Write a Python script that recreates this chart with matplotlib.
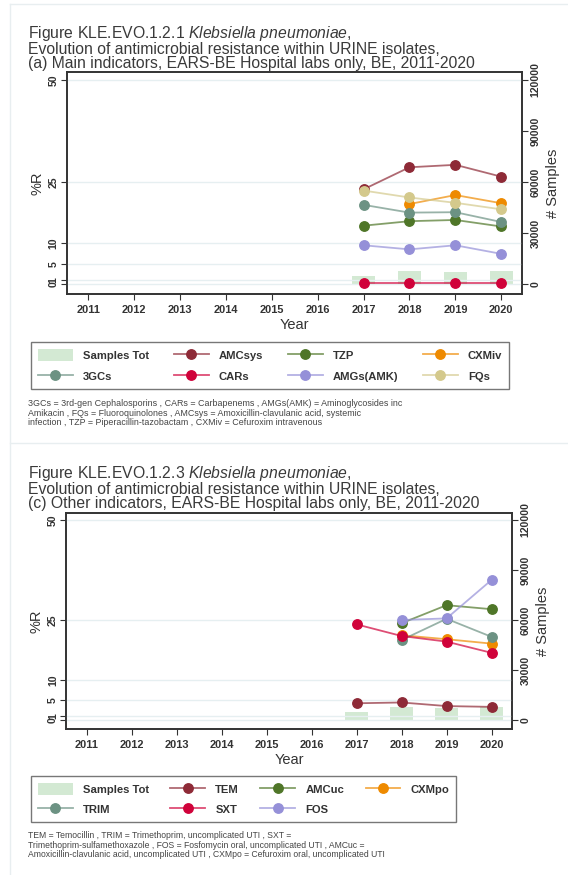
"""
Klebsiella pneumoniae - evolusi resistensi antimikroba pada isolat URINE
Dua panel: (a) indikator utama dan (c) indikator lain, EARS-BE 2011-2020.
"""

import numpy as np
import matplotlib
matplotlib.use("Agg")
import matplotlib.pyplot as plt
from matplotlib.patches import Patch

plt.rcParams['font.family'] = ['Liberation Sans', 'DejaVu Sans']
plt.rcParams['mathtext.fontset'] = 'custom'
plt.rcParams['mathtext.rm'] = 'Liberation Sans'
plt.rcParams['mathtext.it'] = 'Liberation Sans:italic'

nan = np.nan

# Sumbu X
years_axis = list(range(2011, 2021))
years = [2017, 2018, 2019, 2020]

# Panel (a) - indikator utama
samples_main = [5000, 7800, 7200, 7800]
amcsys = [23.2, 28.6, 29.2, 26.3]
tzp = [14.3, 15.4, 15.7, 14.1]
cxmiv = [nan, 19.6, 21.8, 19.8]
gcs3 = [19.4, 17.5, 17.6, 15.2]
cars = [0.2, 0.2, 0.2, 0.2]
amgs = [9.5, 8.5, 9.5, 7.4]
fqs = [22.9, 21.2, 19.9, 18.3]

# Panel (c) - indikator lain
samples_other = [5000, 7800, 7400, 7600]
tem = [4.2, 4.4, 3.5, 3.3]
amcuc = [nan, 24.2, 28.7, 27.7]
cxmpo = [nan, 21.2, 20.2, 19.1]
trim = [nan, 20.0, 25.3, 20.8]
sxt = [23.9, 21.0, 19.6, 16.8]
fos = [nan, 25.0, 25.4, 35.0]

# Warna
C_MAROON = "#8e2a37"
C_GREEN = "#4f7628"
C_ORANGE = "#ee8a00"
C_TEAL = "#6c9283"
C_RED = "#d0023a"
C_LAV = "#9590d8"
C_KHAKI = "#d4c98c"
C_BAR = "#d3e9d3"
C_GRID = "#e6eff1"
C_TEXT = "#333333"

y_ticks = [0, 1, 5, 10, 25, 50]
r_ticks = [0, 30000, 60000, 90000, 120000]

main_series = [
    ("AMCsys", amcsys, C_MAROON), ("TZP", tzp, C_GREEN), ("CXMiv", cxmiv, C_ORANGE),
    ("3GCs", gcs3, C_TEAL), ("CARs", cars, C_RED), ("AMGs(AMK)", amgs, C_LAV),
    ("FQs", fqs, C_KHAKI),
]
other_series = [
    ("TEM", tem, C_MAROON), ("AMCuc", amcuc, C_GREEN), ("CXMpo", cxmpo, C_ORANGE),
    ("TRIM", trim, C_TEAL), ("SXT", sxt, C_RED), ("FOS", fos, C_LAV),
]

W, H = 568, 875
fig = plt.figure(figsize=(W / 100, H / 100), dpi=100)

# garis tipis kartu halaman
fig.add_artist(plt.Line2D([10 / W, 10 / W], [0, 1 - 4 / H], color="#e8eef0", lw=1))
fig.add_artist(plt.Line2D([10 / W, 1], [1 - 4 / H, 1 - 4 / H], color="#e8eef0", lw=1))
fig.add_artist(plt.Line2D([10 / W, 1], [1 - 443 / H, 1 - 443 / H], color="#e8eef0", lw=1))


def draw_panel(rect, samples, series, ylim, title, title_top):
    ax = fig.add_axes(rect)
    ax2 = ax.twinx()

    # bar jumlah sampel (sumbu kanan)
    ax2.bar(years, samples, width=0.5, color=C_BAR, zorder=1)
    ax2.set_ylim(ylim[0] * 2400, ylim[1] * 2400)
    ax2.set_yticks(r_ticks)
    ax2.set_yticklabels([str(t) for t in r_ticks], rotation=90, va="center",
                        fontsize=7.6, color=C_TEXT, fontweight="bold")
    ax2.set_ylabel("# Samples", fontsize=10.5, color=C_TEXT, labelpad=4)

    ax.set_zorder(ax2.get_zorder() + 1)
    ax.patch.set_visible(False)

    handles = []
    for name, vals, col in series:
        r, g, b = matplotlib.colors.to_rgb(col)
        h, = ax.plot(years, vals, color=(r, g, b, 0.7), lw=1.3, marker="o",
                     markersize=6.8, markerfacecolor=col, markeredgecolor=col,
                     label=name, zorder=3)
        handles.append(h)

    for t in y_ticks:
        ax.axhline(t, color=C_GRID, lw=1, zorder=0)

    ax.set_xlim(2010.54, 2020.46)
    ax.set_ylim(*ylim)
    ax.set_xticks(years_axis)
    ax.set_xticklabels([str(y) for y in years_axis], fontsize=7.9, color=C_TEXT,
                       fontweight="bold")
    ax.set_yticks(y_ticks)
    ax.set_yticklabels([str(t) for t in y_ticks], rotation=90, va="center",
                       fontsize=7.6, color=C_TEXT, fontweight="bold")
    ax.set_xlabel("Year", fontsize=10.5, color=C_TEXT, labelpad=2)
    ax.set_ylabel("%R", fontsize=10.5, color=C_TEXT, labelpad=3)

    for a in (ax, ax2):
        a.tick_params(direction="out", length=4, width=0.8, color=C_TEXT, pad=2)
        for s in a.spines.values():
            s.set_color(C_TEXT)
            s.set_linewidth(1.2)
    ax.tick_params(axis="x", pad=4)

    fig.text(28 / W, 1 - title_top / H, title, fontsize=11.3, color="#3a3a3a",
             va="top", ha="left", linespacing=0.93)

    bar_handle = Patch(facecolor=C_BAR, edgecolor="none", label="Samples Tot")
    return [bar_handle] + handles


def add_legend(handles, order, anchor, colspace):
    hs = [handles[i] for i in order]
    leg = fig.legend(handles=hs, labels=[h.get_label() for h in hs], ncol=4,
                     loc="upper left", bbox_to_anchor=anchor,
                     prop={"size": 8.1, "weight": "bold"},
                     frameon=True, fancybox=False, borderaxespad=0,
                     handlelength=3.1, handleheight=1.3, handletextpad=0.9,
                     columnspacing=colspace, labelspacing=0.75, borderpad=0.6)
    leg.get_frame().set_edgecolor("#555555")
    leg.get_frame().set_linewidth(1.0)
    for t in leg.get_texts():
        t.set_color(C_TEXT)
    return leg


# Panel (a)
h_main = draw_panel([67 / W, 1 - 294.3 / H, 455.4 / W, 222.6 / H], samples_main,
                    main_series, (-2.5, 52.0),
                    "Figure KLE.EVO.1.2.1 $\\mathit{Klebsiella\\ pneumoniae}$,\n"
                    "Evolution of antimicrobial resistance within URINE isolates,\n"
                    "(a) Main indicators, EARS-BE Hospital labs only, BE, 2011-2020",
                    24)
# urutan kolom: Samples/3GCs, AMCsys/CARs, TZP/AMGs, CXMiv/FQs
add_legend(h_main, [0, 4, 1, 5, 2, 6, 3, 7], (31 / W, 1 - 342.3 / H), 2.2)

fig.text(28 / W, 1 - 399 / H,
         "3GCs = 3rd-gen Cephalosporins , CARs = Carbapenems , AMGs(AMK) = Aminoglycosides inc\n"
         "Amikacin , FQs = Fluoroquinolones , AMCsys = Amoxicillin-clavulanic acid, systemic\n"
         "infection , TZP = Piperacillin-tazobactam , CXMiv = Cefuroxim intravenous",
         fontsize=6.4, color="#444444", va="top", ha="left", linespacing=1.1)

# Panel (c)
h_other = draw_panel([66.3 / W, 1 - 729.3 / H, 445.9 / W, 216.6 / H], samples_other,
                     other_series, (-2.3, 51.8),
                     "Figure KLE.EVO.1.2.3 $\\mathit{Klebsiella\\ pneumoniae}$,\n"
                     "Evolution of antimicrobial resistance within URINE isolates,\n"
                     "(c) Other indicators, EARS-BE Hospital labs only, BE, 2011-2020",
                     464)
# urutan kolom: Samples/TRIM, TEM/SXT, AMCuc/FOS, CXMpo
add_legend(h_other, [0, 4, 1, 5, 2, 6, 3], (31 / W, 1 - 776 / H), 1.9)

fig.text(28 / W, 1 - 831 / H,
         "TEM = Temocillin , TRIM = Trimethoprim, uncomplicated UTI , SXT =\n"
         "Trimethoprim-sulfamethoxazole , FOS = Fosfomycin oral, uncomplicated UTI , AMCuc =\n"
         "Amoxicillin-clavulanic acid, uncomplicated UTI , CXMpo = Cefuroxim oral, uncomplicated UTI",
         fontsize=6.2, color="#444444", va="top", ha="left", linespacing=1.1)

fig.savefig("out.png", dpi=100)
plt.close(fig)
